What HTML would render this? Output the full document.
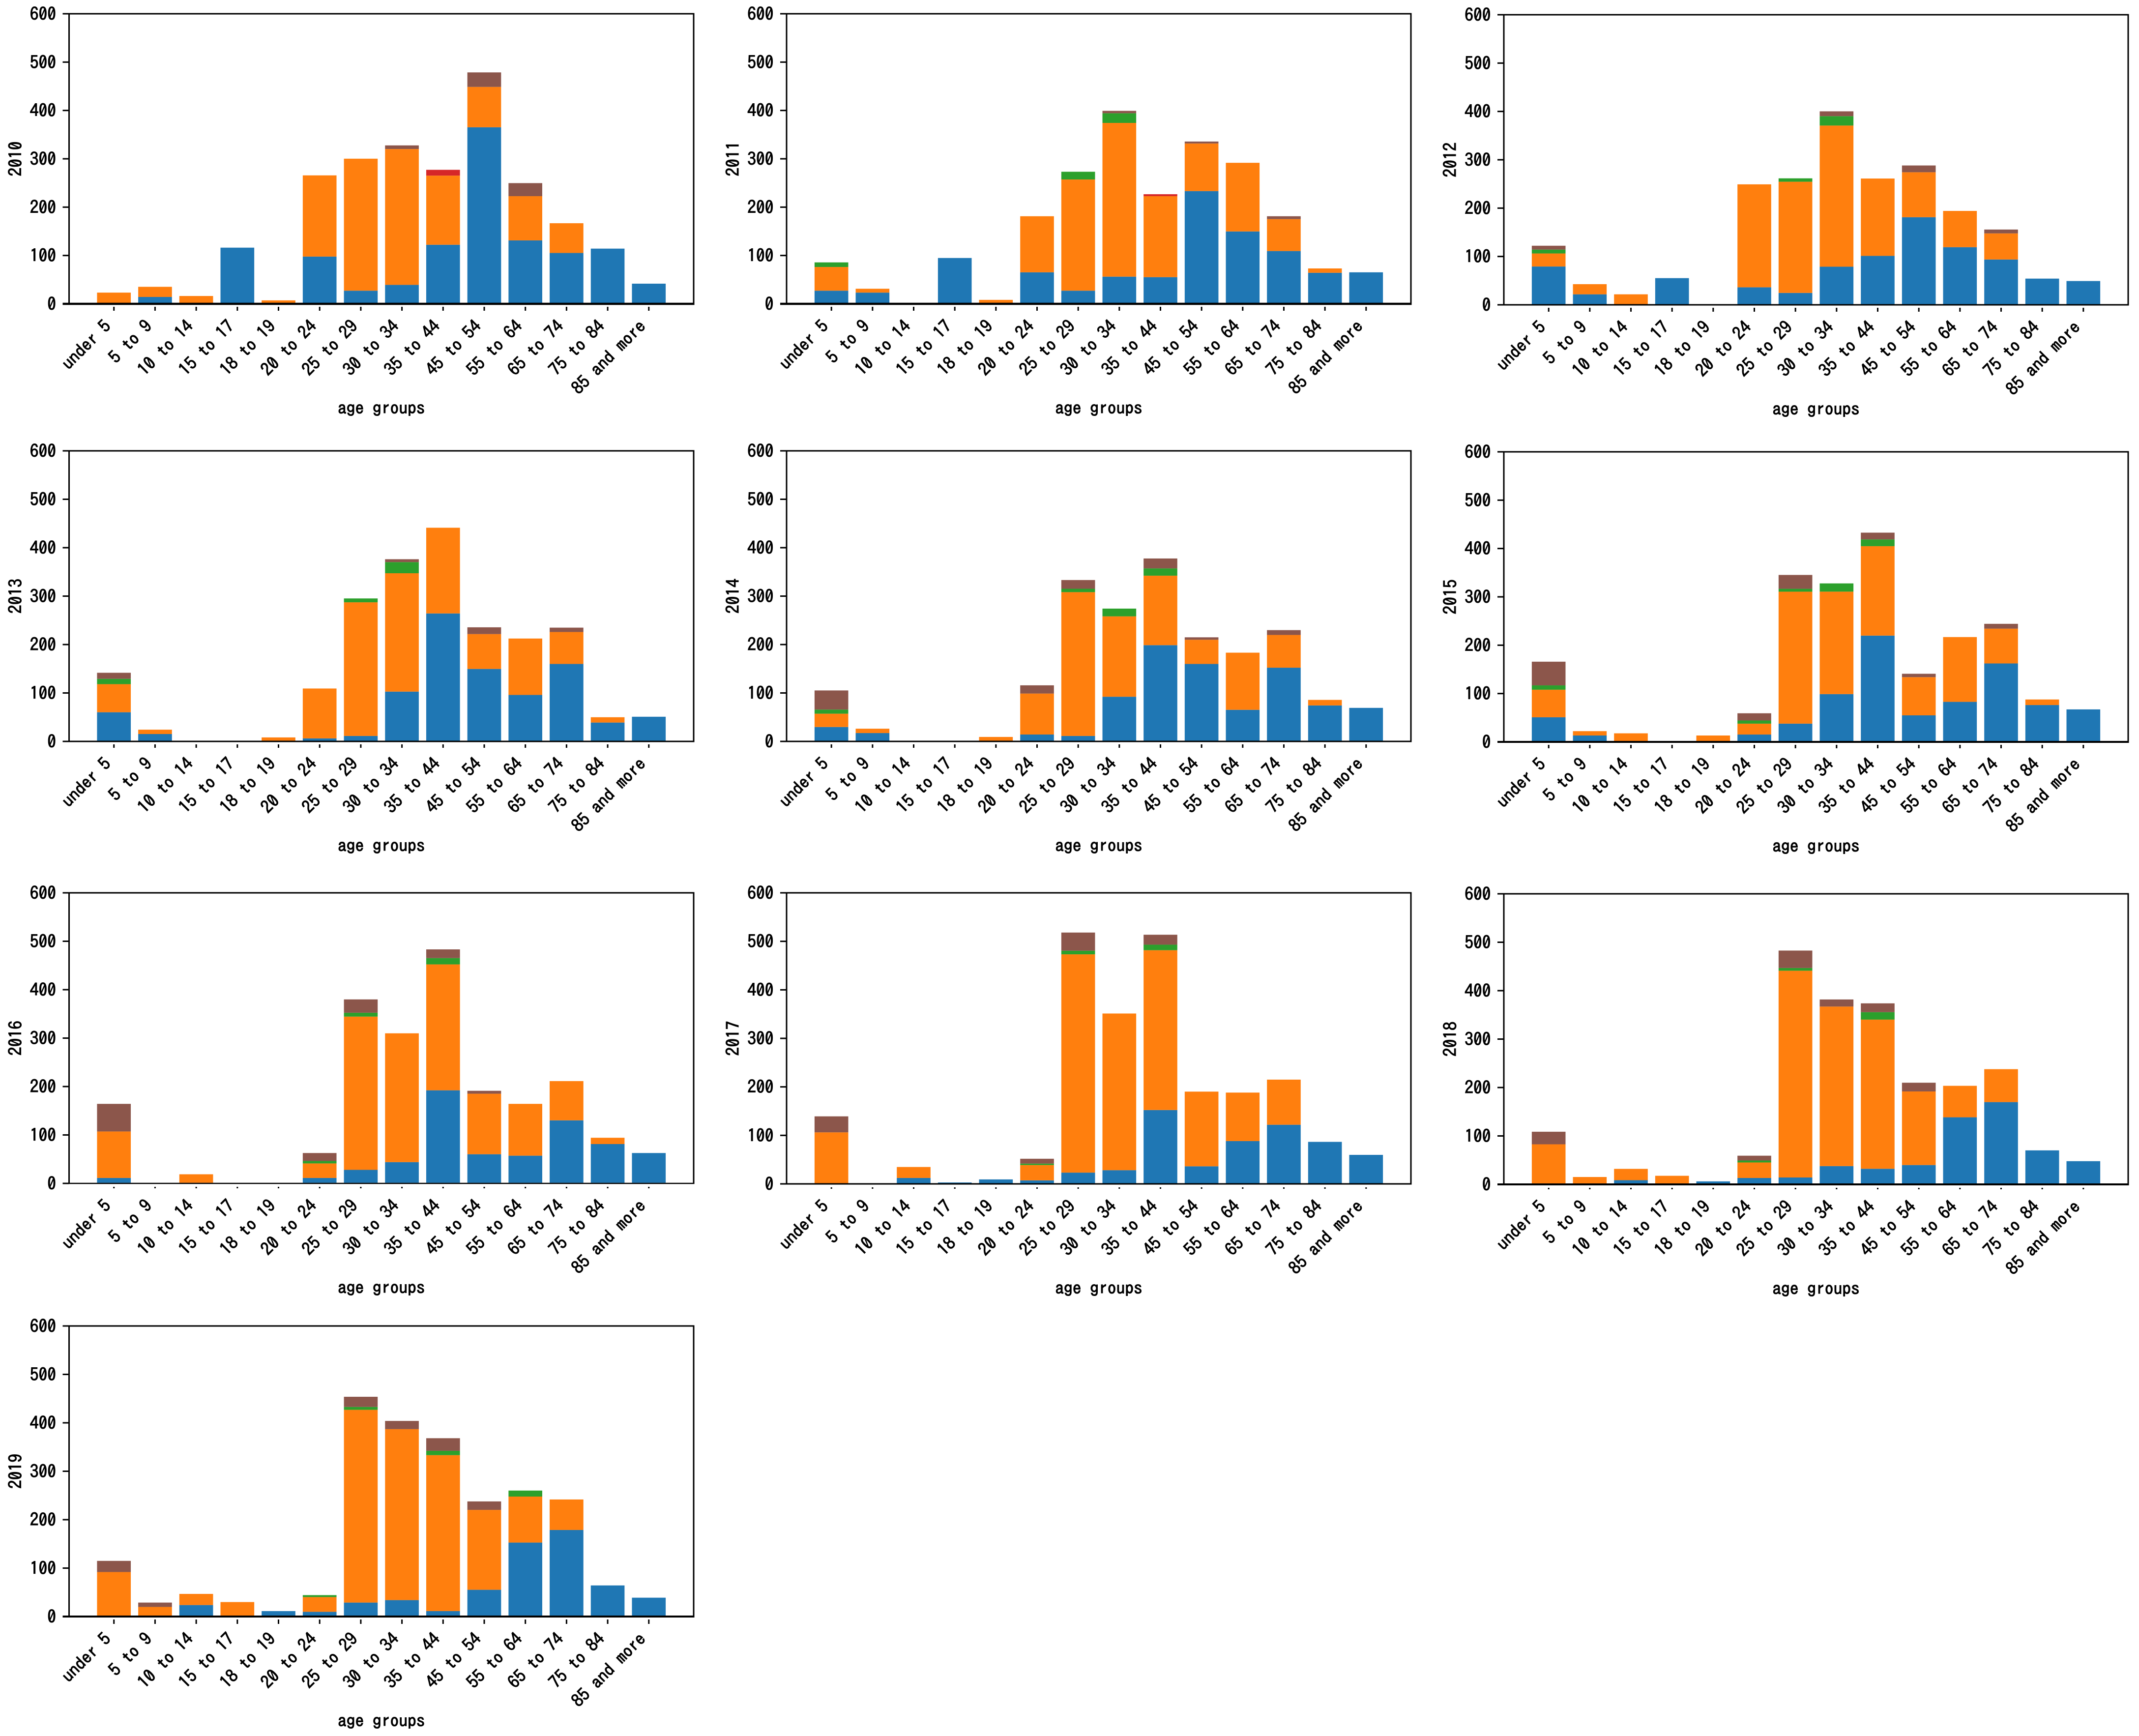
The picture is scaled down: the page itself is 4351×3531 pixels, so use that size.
<!DOCTYPE html>
<html lang="en">
<head>
<meta charset="utf-8">
<title>Stacked bar charts of age groups, 2010 to 2019</title>
<style>
html,body{margin:0;padding:0;background:#fff;}
svg{display:block;}
text{font-family:"IPAGothic","Liberation Sans",sans-serif;font-size:35.5px;fill:#000;stroke:#000;stroke-width:1.1px;}
</style>
</head>
<body>
<svg id="figure" xmlns="http://www.w3.org/2000/svg" width="4351" height="3531" viewBox="0 0 4351 3531">
<rect x="0" y="0" width="4351" height="3531" fill="#ffffff"/>
</svg>
<script>
const categories = ["under 5","5 to 9","10 to 14","15 to 17","18 to 19","20 to 24","25 to 29","30 to 34","35 to 44","45 to 54","55 to 64","65 to 74","75 to 84","85 and more"];
const yTicks = [0,100,200,300,400,500,600];
const xAxisTitle = "age groups";

const blue2010 = [0,13,0,115,0,96.5,26,38,121,364,130,104,113,40.5];
const orange2010 = [22,21,15,0,6,168,273,281,143,83.5,91.5,61.5,0,0];
const green2010 = [0,0,0,0,0,0,0,0,0,0,0,0,0,0];
const red2010 = [0,0,0,0,0,0,0,0,12,0,0,0,0,0];
const brown2010 = [0,0,0,0,0,0,0,7.5,0,30,27,0,0,0];

const blue2011 = [26,22,0,93.6,0,64,26,55,54,232,148.5,108,63,64];
const orange2011 = [49,8,0,0,7,116,230,318,167.5,98.5,142,66,9,0];
const green2011 = [9.5,0,0,0,0,0,16,20,0,0,0,0,0,0];
const red2011 = [0,0,0,0,0,0,0,0,4,0,0,0,0,0];
const brown2011 = [0,0,0,0,0,0,0,5,0,4,0,6,0,0];

const blue2012 = [78,20.5,0,54,0,35,23.4,77.6,100,180,118,92.5,53,48];
const orange2012 = [27,21,20.5,0,0,213,230,292,160,93,75,54,0,0];
const green2012 = [8,0,0,0,0,0,7,19.4,0,0,0,0,0,0];
const brown2012 = [8,0,0,0,0,0,0,10,0,14,0,8,0,0];

const blue2013 = [59,14,0,0,0,5,10,101.6,263,148.4,94.7,158.7,37.7,49.7];
const orange2013 = [58,9,0,0,7,103,276,244.4,177,72,116.5,66,11,0];
const green2013 = [11,0,0,0,0,0,8,23,0,0,0,0,0,0];
const brown2013 = [12.5,0,0,0,0,0,0,6,0,14,0,9,0,0];

const blue2014 = [28.5,16,0,0,0,13,10,91,197.5,158.7,64,151,73,68];
const orange2014 = [27.5,9,0,0,8,84.6,297,166,143.5,50,118,67.6,11.5,0];
const green2014 = [8.5,0,0,0,0,0,7,16,15,0,0,0,0,0];
const brown2014 = [39.5,0,0,0,0,17,18,0,20.5,5,0,10,0,0];

const blue2015 = [49.7,12,0,0,0,14,36.5,97.6,218.6,53.7,81.6,161,75,66];
const orange2015 = [57,9,16.5,0,12,22.5,273,212,185,79,134,72,11.5,0];
const green2015 = [9,0,0,0,0,6.5,6,17,14,0,0,0,0,0];
const brown2015 = [49,0,0,0,0,15,28.6,0,14,7,0,10,0,0];

const blue2016 = [10,0,0,0,0,10,26.7,42.7,191,59,56,129,80,61.5];
const orange2016 = [96,0,17.6,0,0,30,316.5,266,260,125,107,81,13,0];
const green2016 = [0,0,0,0,0,5,8,0,13,0,0,0,0,0];
const brown2016 = [57,0,0,0,0,16.5,27.5,0,18,6,0,0,0,0];

const blue2017 = [0,0,11,1.7,8,6,22,27,151,35,87,120.7,85.4,58.6];
const orange2017 = [105,0,22.6,0,0,31.6,450,323,329.5,154,100,93,0,0];
const green2017 = [0,0,0,0,0,3,7.4,0,11.4,0,0,0,0,0];
const brown2017 = [33,0,0,0,0,10,37.5,0,20.5,0,0,0,0,0];

const blue2018 = [0,0,7.4,0,5,12,13,36.5,31,38.7,137.3,168.7,69,46.7];
const orange2018 = [81.5,14,23.4,16.5,0,32,427,329.5,308,152,65,68,0,0];
const green2018 = [0,0,0,0,0,4,5.6,0,15.4,0,0,0,0,0];
const brown2018 = [26,0,0,0,0,10,36,14.6,18.2,18,0,0,0,0];

const blue2019 = [0,0,22.5,0,10,8.5,27.6,32.7,10,54,151.5,177.5,63,37.7];
const orange2019 = [90.7,18.6,23,28.7,0,30.5,398,353,322,165,95,63,0,0];
const green2019 = [0,0,0,0,0,4,6,0,9,0,12.4,0,0,0];
const brown2019 = [23,9,0,0,0,0,21,17,26,17.5,0,0,0,0];

const seriesColors = {blue:"#1f77b4",orange:"#ff7f0e",green:"#2ca02c",red:"#d62728",brown:"#8c564b"};

const panels = [
  {year:"2010",blue:blue2010,orange:orange2010,green:green2010,red:red2010,brown:brown2010,left:140.5,right:1411,top:28,bottom:618,base:4.5,tickGap:6,tickLen:8},
  {year:"2011",blue:blue2011,orange:orange2011,green:green2011,red:red2011,brown:brown2011,left:1600,right:2870,top:28,bottom:618,base:4.5,tickGap:6,tickLen:8},
  {year:"2012",blue:blue2012,orange:orange2012,green:green2012,brown:brown2012,left:3059,right:4329,top:30,bottom:620,base:3,tickGap:6,tickLen:8},
  {year:"2013",blue:blue2013,orange:orange2013,green:green2013,brown:brown2013,left:140.5,right:1411,top:917,bottom:1508,base:3,tickGap:6,tickLen:7},
  {year:"2014",blue:blue2014,orange:orange2014,green:green2014,brown:brown2014,left:1600,right:2870,top:917,bottom:1508,base:3,tickGap:6,tickLen:7},
  {year:"2015",blue:blue2015,orange:orange2015,green:green2015,brown:brown2015,left:3059,right:4329,top:919,bottom:1509,base:4,tickGap:6,tickLen:7},
  {year:"2016",blue:blue2016,orange:orange2016,green:green2016,brown:brown2016,left:140.5,right:1411,top:1816,bottom:2407,base:2.5,tickGap:7,tickLen:3},
  {year:"2017",blue:blue2017,orange:orange2017,green:green2017,brown:brown2017,left:1600,right:2870,top:1816,bottom:2408,base:3,tickGap:7,tickLen:3},
  {year:"2018",blue:blue2018,orange:orange2018,green:green2018,brown:brown2018,left:3059,right:4329,top:1818,bottom:2409,base:4,tickGap:7,tickLen:3},
  {year:"2019",blue:blue2019,orange:orange2019,green:green2019,brown:brown2019,left:140.5,right:1411,top:2697,bottom:3288,base:4,tickGap:6,tickLen:9}
];

const SVG_NS = "http://www.w3.org/2000/svg";
const figure = document.getElementById("figure");
const X_MIN = -1.09;
const X_MAX = 14.09;
const Y_MAX = 600;
const BAR_WIDTH = 0.82;
const BAR_LIFT = 1.2;

function xScale(p, v){ return p.left + (v - X_MIN) / (X_MAX - X_MIN) * (p.right - p.left); }
function yScale(p, v){ return p.bottom - v / Y_MAX * (p.bottom - p.top); }

function make(parent, tag, attrs){
  const el = document.createElementNS(SVG_NS, tag);
  for (const k in attrs) el.setAttribute(k, attrs[k]);
  parent.appendChild(el);
  return el;
}

function drawPanel(p){
  const g = make(figure, "g", {});
  
  

  const stack = categories.map(function(){ return 0; });
  ["blue","orange","green","red","brown"].forEach(function(key){
    const values = p[key];
    if (!values) return;
    values.forEach(function(v, i){
      const y0 = stack[i];
      stack[i] = y0 + v;
      if (v <= 0) return;
      const rect = make(g, "rect", {
        x: xScale(p, i - BAR_WIDTH / 2),
        y: yScale(p, y0 + v) - BAR_LIFT,
        width: xScale(p, i + BAR_WIDTH / 2) - xScale(p, i - BAR_WIDTH / 2),
        height: yScale(p, y0) - yScale(p, y0 + v),
        fill: seriesColors[key]
      });
      
      
    });
  });

  yTicks.forEach(function(t){
    const y = yScale(p, t);
    const tick = make(g, "line", {x1:p.left - 13, x2:p.left, y1:y, y2:y, stroke:"#000", "stroke-width":3});
    
    
    const label = make(g, "text", {x:p.left - 26.5, y:y + 13, "text-anchor":"end"});
    label.textContent = String(t);
    
    
  });

  categories.forEach(function(c, i){
    const x = xScale(p, i);
    const tick = make(g, "line", {x1:x, x2:x, y1:p.bottom + p.tickGap, y2:p.bottom + p.tickGap + p.tickLen, stroke:"#000", "stroke-width":3});
    
    
    const ax = x - 4;
    const ay = p.bottom + 48;
    const label = make(g, "text", {x:ax, y:ay, "text-anchor":"end", transform:"rotate(-45 " + ax + " " + ay + ")"});
    label.textContent = c;
    
    
  });

  const frame = make(g, "path", {
    d:"M" + p.left + " " + p.bottom + "V" + p.top + "H" + p.right + "V" + p.bottom,
    fill:"none", stroke:"#000", "stroke-width":3
  });
  
  

  const baseline = make(g, "line", {x1:p.left - 13, x2:p.right + 1.5, y1:p.bottom, y2:p.bottom, stroke:"#000", "stroke-width":p.base});
  
  

  const xTitle = make(g, "text", {x:(p.left + p.right) / 2, y:p.bottom + 224, "text-anchor":"middle"});
  xTitle.textContent = xAxisTitle;
  
  

  const tx = p.left - 96;
  const ty = (p.top + p.bottom) / 2;
  const yTitle = make(g, "text", {x:tx, y:ty, "text-anchor":"middle", transform:"rotate(-90 " + tx + " " + ty + ")"});
  yTitle.textContent = p.year;
  
  
}

panels.forEach(drawPanel);
</script>
</body>
</html>
